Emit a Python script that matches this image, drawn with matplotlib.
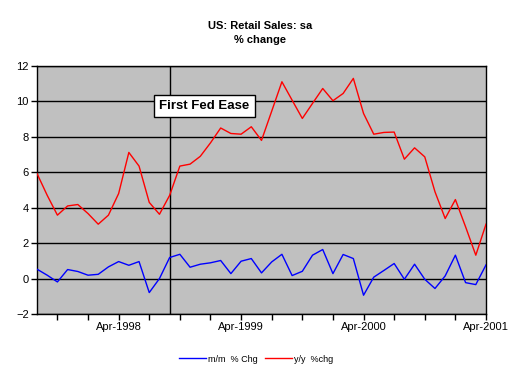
import pandas as pd
import matplotlib.pyplot as plt

plt.rcParams["font.family"] = ["Liberation Sans", "DejaVu Sans"]

months = pd.date_range("1997-08-01", "2001-04-01", freq="MS")
yy_chg = [5.93, 4.7, 3.58, 4.1, 4.18, 3.67, 3.07, 3.58, 4.8, 7.12, 6.35, 4.3,
          3.63, 4.7, 6.35, 6.46, 6.9, 7.66, 8.5, 8.19, 8.15, 8.57, 7.8, 9.45,
          11.11, 10.07, 9.04, 9.89, 10.73, 10.04, 10.45, 11.3, 9.32, 8.15, 8.25,
          8.27, 6.74, 7.38, 6.87, 4.9, 3.39, 4.46, 2.92, 1.32, 3.07]
mm_chg = [0.53, 0.19, -0.19, 0.51, 0.40, 0.19, 0.24, 0.66, 0.96, 0.75, 0.96, -0.79,
          0.0, 1.19, 1.37, 0.64, 0.81, 0.89, 1.02, 0.28, 0.98, 1.13, 0.32, 0.94,
          1.37, 0.17, 0.41, 1.32, 1.64, 0.28, 1.36, 1.13, -0.94, 0.08, 0.46,
          0.85, -0.04, 0.81, -0.04, -0.56, 0.15, 1.32, -0.23, -0.34, 0.77]
fed_ease = "1998-09-01"

x = list(range(len(months)))
fed_x = list(months).index(pd.Timestamp(fed_ease))

fig = plt.figure(figsize=(5.12, 3.84), dpi=100)
ax = fig.add_axes([37/512, 70/384, 449/512, 248/384])
ax.set_facecolor("#C0C0C0")

for v in range(-2, 13, 2):
    ax.axhline(v, color="black", lw=1, zorder=1)

ax.plot(x, mm_chg, color="blue", lw=1, label="m/m  % Chg", zorder=3)
ax.plot(x, yy_chg, color="red", lw=1, label="y/y  %chg", zorder=3)
ax.axvline(fed_x, color="black", lw=1, zorder=2)

ax.text(16.4, 9.73, "First Fed Ease", fontsize=9.5, fontweight="bold",
        ha="center", va="center", zorder=4,
        bbox=dict(boxstyle="square,pad=0.4", fc="white", ec="black", lw=1))

ax.set_xlim(0, len(x) - 1)
ax.set_ylim(-2, 12)
ax.set_yticks(range(-2, 13, 2))
ax.set_xticks([i for i in x if months[i].month in (1, 4, 7, 10)])
ax.set_xticklabels([months[i].strftime("%b-%Y") if months[i].month == 4 else ""
                    for i in x if months[i].month in (1, 4, 7, 10)])
ax.tick_params(labelsize=8, length=4, width=1, direction="out", pad=2)
for s in ax.spines.values():
    s.set_color("black")
    s.set_linewidth(1)

fig.text(0.508, 0.914, "US: Retail Sales: sa\n% change", ha="center", va="center",
         fontsize=8, fontweight="bold", linespacing=1.55)

fig.legend(loc="center", bbox_to_anchor=(0.5, 0.065), ncol=2, frameon=False,
           fontsize=6.5, handlelength=3, handletextpad=0.2, columnspacing=0.8)

fig.savefig("out.png", dpi=100)
